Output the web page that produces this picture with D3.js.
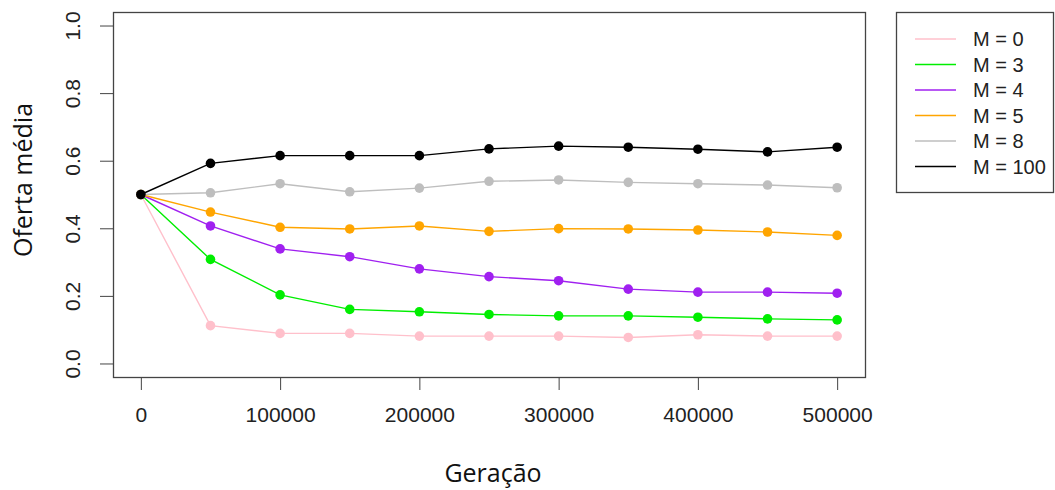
<!DOCTYPE html>
<html>
<head>
<meta charset="utf-8">
<script src="https://cdn.jsdelivr.net/npm/d3@7"></script>
<style>
  body { margin: 0; background: #fff; }
  svg { display: block; }
  .tick text { font-family: "Liberation Sans", Arial, sans-serif; fill: #222; }
</style>
</head>
<body>
<script>
// generations sampled
const geracoes = [0, 50000, 100000, 150000, 200000, 250000, 300000, 350000, 400000, 450000, 500000];

// mean offer per value of M
const m0   = [0.50, 0.112, 0.089, 0.089, 0.081, 0.081, 0.081, 0.077, 0.085, 0.081, 0.081];
const m3   = [0.50, 0.308, 0.203, 0.160, 0.153, 0.145, 0.141, 0.141, 0.137, 0.132, 0.129];
const m4   = [0.50, 0.407, 0.339, 0.316, 0.280, 0.257, 0.245, 0.220, 0.211, 0.211, 0.208];
const m5   = [0.50, 0.448, 0.403, 0.398, 0.407, 0.391, 0.399, 0.398, 0.395, 0.389, 0.379];
const m8   = [0.50, 0.505, 0.532, 0.508, 0.519, 0.539, 0.543, 0.536, 0.532, 0.528, 0.520];
const m100 = [0.50, 0.592, 0.615, 0.615, 0.615, 0.635, 0.643, 0.640, 0.634, 0.626, 0.640];

const seriesNames = ["M = 0", "M = 3", "M = 4", "M = 5", "M = 8", "M = 100"];
const seriesValues = [m0, m3, m4, m5, m8, m100];
const seriesColors = ["#FFC0CB", "#00EE00", "#A020F0", "#FFA500", "#BEBEBE", "#000000"];

const xTicks = [0, 100000, 200000, 300000, 400000, 500000];
const yTicks = [0, 0.2, 0.4, 0.6, 0.8, 1.0];

const W = 1055, H = 490;
const box = { left: 113, top: 12, right: 865, bottom: 377 };

const svg = d3.select("body").append("svg")
    .attr("width", W)
    .attr("height", H);

// R style: axis range padded 4% around data
const x = d3.scaleLinear()
    .domain([-20000, 520000])
    .range([box.left, box.right]);

const y = d3.scaleLinear()
    .domain([-0.04, 1.04])
    .range([box.bottom, box.top]);

// x axis
const gx = svg.append("g")
    .attr("transform", `translate(0,${box.bottom})`)
    .call(d3.axisBottom(x).tickValues(xTicks).tickFormat(d3.format("d")).tickSize(13));
gx.select(".domain").remove();
gx.selectAll(".tick line").attr("stroke", "#444");
gx.selectAll(".tick text")
    .attr("y", 38)
    .attr("dy", "0.35em")
    .style("font-size", "21px");

// y axis
const gy = svg.append("g")
    .attr("transform", `translate(${box.left},0)`)
    .call(d3.axisLeft(y).tickValues(yTicks).tickFormat(d3.format(".1f")).tickSize(13));
gy.select(".domain").remove();
gy.selectAll(".tick line").attr("stroke", "#444");
gy.selectAll(".tick text")
    .attr("x", null)
    .attr("text-anchor", "middle")
    .attr("transform", "translate(-40,0) rotate(-90)")
    .attr("dy", "0.35em")
    .style("font-size", "21px");

// plot box
svg.append("rect")
    .attr("x", box.left + 0.5)
    .attr("y", box.top + 0.5)
    .attr("width", box.right - box.left)
    .attr("height", box.bottom - box.top)
    .attr("fill", "none")
    .attr("stroke", "#444")
    .attr("stroke-width", 1.3);

// axis titles
svg.append("text")
    .attr("x", 493)
    .attr("y", 482)
    .attr("text-anchor", "middle")
    .style("font-family", "'Open Sans', 'Noto Sans', sans-serif")
    .style("font-size", "25px")
    .style("fill", "#111")
    .text("Geração");

svg.append("text")
    .attr("transform", "translate(23,180) rotate(-90)")
    .attr("dy", "0.35em")
    .attr("text-anchor", "middle")
    .style("font-family", "'Open Sans', 'Noto Sans', sans-serif")
    .style("font-size", "25px")
    .style("fill", "#111")
    .text("Oferta média");

// lines and points
const line = d3.line()
    .x((d, i) => x(geracoes[i]))
    .y(d => y(d));

seriesValues.forEach((vals, k) => {
  const g = svg.append("g");
  g.append("path")
      .datum(vals)
      .attr("d", line)
      .attr("fill", "none")
      .attr("stroke", seriesColors[k])
      .attr("stroke-width", 1.4);
  g.selectAll("circle")
      .data(vals)
      .enter()
      .append("circle")
      .attr("cx", (d, i) => x(geracoes[i]))
      .attr("cy", d => y(d))
      .attr("r", 4.8)
      .attr("fill", seriesColors[k]);
});

// legend
const lg = svg.append("g");
lg.append("rect")
    .attr("x", 896.5)
    .attr("y", 12.5)
    .attr("width", 157)
    .attr("height", 180)
    .attr("fill", "#fff")
    .attr("stroke", "#444")
    .attr("stroke-width", 1.3);

const items = lg.selectAll(".legend")
    .data(seriesNames)
    .enter().append("g")
    .attr("transform", (d, i) => `translate(0, ${39 + i * 25.5})`);

items.append("line")
    .attr("x1", 915)
    .attr("x2", 956)
    .attr("stroke", (d, i) => seriesColors[i])
    .attr("stroke-width", 1.5);

items.append("text")
    .attr("x", 973)
    .attr("dy", "0.35em")
    .style("font-family", "'Liberation Sans', Arial, sans-serif")
    .style("font-size", "20px")
    .style("fill", "#222")
    .text(d => d);
</script>
</body>
</html>
